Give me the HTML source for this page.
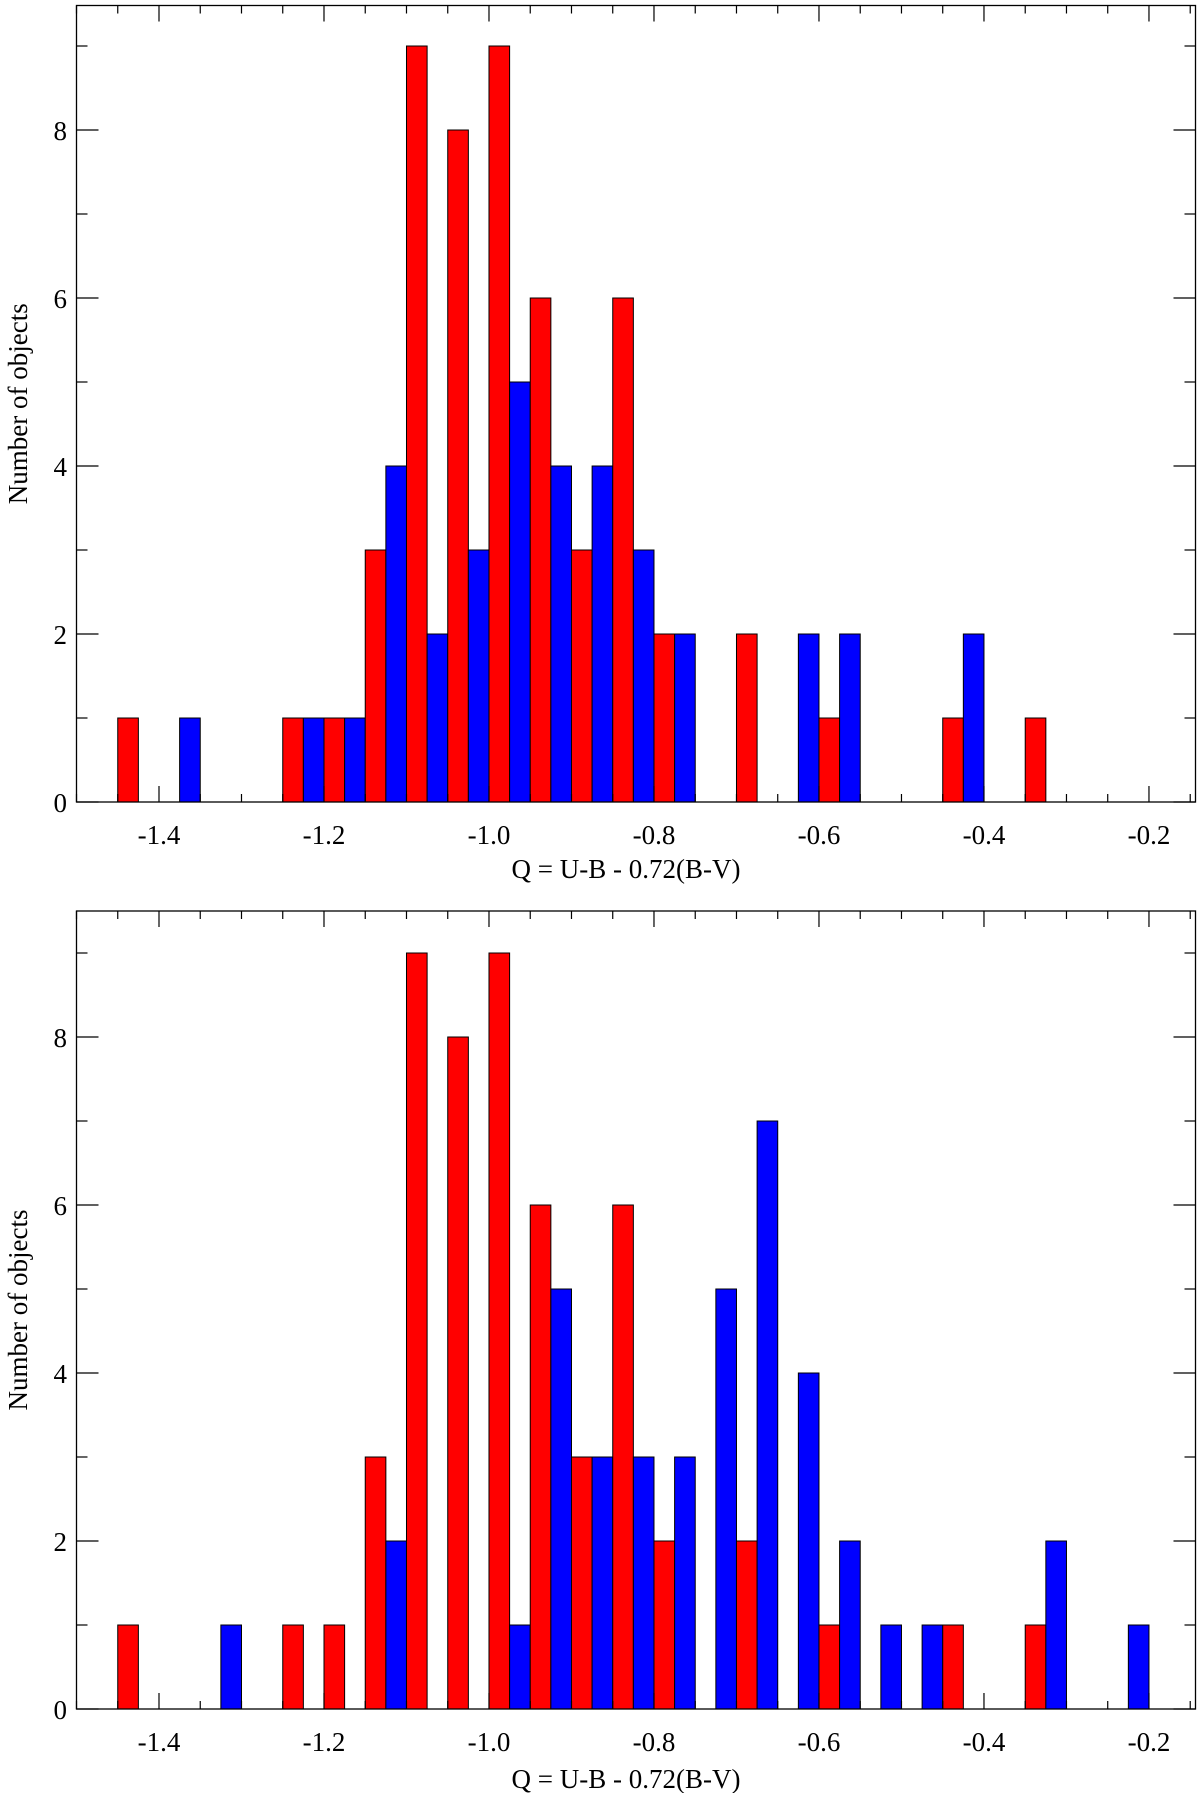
<!DOCTYPE html>
<html><head><meta charset="utf-8"><style>html,body{margin:0;padding:0;background:#fff}svg{display:block}</style></head>
<body>
<svg id="fig" width="1200" height="1793" xmlns="http://www.w3.org/2000/svg" font-family="'Liberation Serif', serif"></svg>
<script>
const binStarts = [-1.45,-1.40,-1.35,-1.30,-1.25,-1.20,-1.15,-1.10,-1.05,-1.00,-0.95,-0.90,-0.85,-0.80,-0.75,-0.70,-0.65,-0.60,-0.55,-0.50,-0.45,-0.40,-0.35,-0.30,-0.25,-0.20];
const topRed =  [1,0,0,0,1,1,3,9,8,9,6,3,6,2,0,2,0,1,0,0,1,0,1,0,0,0];
const topBlue = [0,1,0,0,1,1,4,2,3,5,4,4,3,2,0,0,2,2,0,0,2,0,0,0,0,0];
const botRed =  [1,0,0,0,1,1,3,9,8,9,6,3,6,2,0,2,0,1,0,0,1,0,1,0,0,0];
const botBlue = [0,0,1,0,0,0,2,0,0,1,5,3,3,3,5,7,4,2,1,1,0,0,2,0,1,0];
const xTickLabels = ["-1.4","-1.2","-1.0","-0.8","-0.6","-0.4","-0.2"];
const yTickLabels = ["0","2","4","6","8"];
const NS="http://www.w3.org/2000/svg";
const svg=document.getElementById('fig');
const X0=76.5, X1=1195.5, XMIN=-1.5, XMAX=-0.1436;
function xs(v){return X0+(v-XMIN)/(XMAX-XMIN)*(X1-X0);}
function mk(tag,attrs,parent){const e=document.createElementNS(NS,tag);for(const k in attrs)e.setAttribute(k,attrs[k]);(parent||svg).appendChild(e);return e;}
function panel(name,top,zero,red,blue,titleY){
  const g=mk('g',{});
  
  
  const ys=v=>zero-v*84;
  const w=xs(0.025)-xs(0);
  binStarts.forEach((b,i)=>{
    if(red[i]>0){const r=mk('rect',{x:xs(b),y:ys(red[i]),width:w,height:zero-ys(red[i]),fill:'#ff0000',stroke:'#000','stroke-width':1},g);
      }
    if(blue[i]>0){const r=mk('rect',{x:xs(b+0.025),y:ys(blue[i]),width:w,height:zero-ys(blue[i]),fill:'#0000ff',stroke:'#000','stroke-width':1},g);
      }
  });
  const fr=mk('rect',{x:X0,y:top,width:X1-X0,height:zero-top,fill:'none',stroke:'#000','stroke-width':1.3},g);
  
  for(let k=0;k<=27;k++){const v=-1.5+k*0.05;const x=xs(v);if(x>X1)break;
    const major=Math.abs(Math.round(v*100)%20)===0;const L=major?16:8;
    mk('line',{x1:x,y1:zero,x2:x,y2:zero-L,stroke:'#000','stroke-width':1.2},g);
    mk('line',{x1:x,y1:top,x2:x,y2:top+L,stroke:'#000','stroke-width':1.2},g);}
  xTickLabels.forEach(t=>{const e=mk('text',{x:xs(parseFloat(t)),y:zero+42,'font-size':27,'text-anchor':'middle'},g);e.textContent=t;
    });
  for(let v=0;v<=9;v++){const y=ys(v);const L=v%2===0?22:11;
    mk('line',{x1:X0,y1:y,x2:X0+L,y2:y,stroke:'#000','stroke-width':1.2},g);
    mk('line',{x1:X1,y1:y,x2:X1-L,y2:y,stroke:'#000','stroke-width':1.2},g);}
  yTickLabels.forEach(t=>{const e=mk('text',{x:67,y:ys(+t)+10,'font-size':27,'text-anchor':'end'},g);e.textContent=t;
    });
  const xt=mk('text',{x:626,y:titleY,'font-size':27,'text-anchor':'middle'},g);xt.textContent='Q = U-B - 0.72(B-V)';
  
  const cy=(top+zero)/2;
  const yt=mk('text',{x:27,y:cy,'font-size':27,'text-anchor':'middle',transform:`rotate(-90 27 ${cy})`},g);yt.textContent='Number of objects';
  
}
panel('top-histogram',5.5,802,topRed,topBlue,878);
panel('bottom-histogram',911,1709,botRed,botBlue,1788);
</script>
</body></html>
